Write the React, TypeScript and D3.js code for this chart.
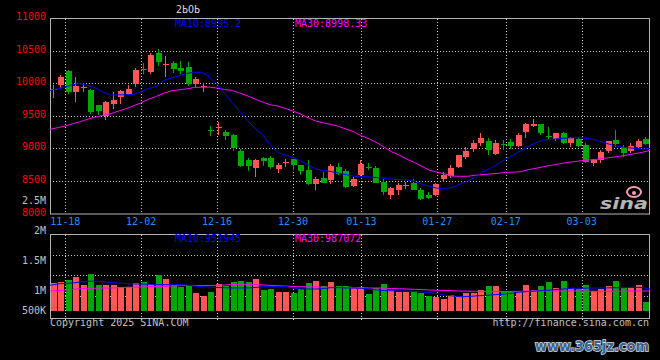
import { useMemo } from "react";
import * as d3 from "d3";

// trading days shown (MM-DD)
const dates = [
  "11-14", "11-15", "11-18", "11-19", "11-20", "11-21", "11-22", "11-25", "11-26", "11-27",
  "11-28", "11-29", "12-02", "12-03", "12-04", "12-05", "12-06", "12-09", "12-10", "12-11",
  "12-12", "12-13", "12-16", "12-17", "12-18", "12-19", "12-20", "12-23", "12-24", "12-25",
  "12-26", "12-27", "12-30", "12-31", "01-02", "01-03", "01-06", "01-07", "01-08", "01-09",
  "01-10", "01-13", "01-14", "01-15", "01-16", "01-17", "01-20", "01-21", "01-22", "01-23",
  "01-24", "01-27", "02-05", "02-06", "02-07", "02-10", "02-11", "02-12", "02-13", "02-14",
  "02-17", "02-18", "02-19", "02-20", "02-21", "02-24", "02-25", "02-26", "02-27", "02-28",
  "03-03", "03-04", "03-05", "03-06", "03-07", "03-10", "03-11", "03-12", "03-13", "03-14",
];

const opens = [
  9900, 9975, 10189, 9857, 9925, 9888, 9658, 9500, 9684, 9781,
  9837, 9980, 10225, 10179, 10464, 10290, 10316, 10240, 10250, 9980,
  9945, 9285, 9318, 9256, 9210, 8965, 8827, 8705, 8849, 8854,
  8685, 8783, 8833, 8741, 8669, 8454, 8546, 8515, 8710, 8654,
  8423, 8587, 8720, 8700, 8490, 8285, 8362, 8418, 8464, 8362,
  8285, 8285, 8526, 8577, 8719, 8872, 8990, 9077, 9112, 8913,
  9070, 9102, 9041, 9255, 9350, 9372, 9195, 9143, 9240, 9077,
  9138, 9051, 8770, 8821, 8964, 9128, 9026, 8964, 9026, 9138,
];
const highs = [
  9975, 10128, 10195, 10102, 10000, 9908, 9668, 9725, 9857, 9890,
  9975, 10235, 10306, 10459, 10526, 10423, 10337, 10337, 10327, 10092,
  10010, 9347, 9409, 9286, 9215, 8990, 8848, 8833, 8874, 8890,
  8772, 8833, 8840, 8746, 8823, 8556, 8644, 8762, 8772, 8680,
  8556, 8823, 8772, 8731, 8526, 8413, 8464, 8490, 8526, 8387,
  8331, 8464, 8638, 8745, 8900, 9026, 9128, 9230, 9163, 9128,
  9128, 9138, 9230, 9383, 9444, 9372, 9332, 9240, 9255, 9179,
  9179, 9087, 8842, 8974, 9112, 9281, 9051, 9087, 9138, 9168,
];
const lows = [
  9780, 9924, 9840, 9704, 9857, 9531, 9516, 9439, 9607, 9679,
  9822, 9934, 10138, 10148, 10270, 10102, 10153, 10133, 9949, 9924,
  9857, 9194, 9209, 9133, 8965, 8720, 8659, 8567, 8731, 8690,
  8628, 8720, 8669, 8592, 8438, 8362, 8464, 8454, 8592, 8387,
  8403, 8556, 8669, 8464, 8285, 8223, 8285, 8372, 8356, 8208,
  8223, 8269, 8490, 8541, 8694, 8832, 8949, 9036, 8898, 8898,
  8974, 8985, 9026, 9163, 9332, 9204, 9138, 9117, 9066, 9026,
  9026, 8781, 8735, 8770, 8923, 9026, 8872, 8923, 9000, 9051,
];
const closes = [
  9915, 10097, 9862, 9959, 9945, 9551, 9567, 9715, 9745, 9883,
  9913, 10204, 10220, 10434, 10332, 10295, 10220, 10189, 9990, 10066,
  9950, 9280, 9325, 9194, 9001, 8735, 8735, 8823, 8813, 8710,
  8746, 8790, 8746, 8654, 8454, 8531, 8469, 8731, 8608, 8413,
  8531, 8762, 8710, 8469, 8336, 8397, 8438, 8438, 8362, 8223,
  8244, 8454, 8597, 8704, 8898, 8964, 9087, 9163, 8974, 9087,
  9060, 9041, 9204, 9372, 9372, 9240, 9185, 9240, 9077, 9153,
  9036, 8796, 8821, 8949, 9112, 9066, 8923, 9036, 9112, 9066,
];
const ma10 = [
  9888, 9914, 9944, 9980, 9995, 9964, 9924, 9862, 9817, 9822,
  9822, 9827, 9868, 9919, 9949, 10041, 10082, 10112, 10148, 10168,
  10168, 10092, 9985, 9837, 9704, 9567, 9428, 9310, 9208, 9054,
  8936, 8895, 8859, 8808, 8746, 8685, 8659, 8644, 8618, 8597,
  8572, 8567, 8562, 8551, 8541, 8526, 8521, 8515, 8490, 8449,
  8418, 8387, 8387, 8400, 8454, 8500, 8556, 8643, 8694, 8760,
  8837, 8893, 8964, 9026, 9087, 9128, 9138, 9148, 9158, 9163,
  9163, 9148, 9122, 9087, 9051, 9026, 9010, 9000, 8990, 8995,
];
const ma30 = [
  9291, 9317, 9342, 9378, 9409, 9449, 9480, 9505, 9531, 9572,
  9607, 9653, 9699, 9755, 9796, 9847, 9883, 9898, 9913, 9934,
  9939, 9939, 9924, 9903, 9888, 9847, 9806, 9756, 9710, 9669,
  9649, 9613, 9572, 9526, 9469, 9418, 9392, 9367, 9336, 9295,
  9254, 9192, 9146, 9090, 9018, 8946, 8895, 8833, 8782, 8721,
  8664, 8633, 8608, 8574, 8571, 8571, 8587, 8597, 8607, 8617,
  8633, 8633, 8643, 8673, 8694, 8719, 8740, 8760, 8781, 8796,
  8811, 8821, 8832, 8847, 8862, 8878, 8898, 8918, 8939, 8969,
];

// volume in thousands
const volumes = [
  1138, 1155, 1183, 1233, 1100, 1283, 1100, 1100, 1100, 1072,
  1072, 1138, 1155, 1117, 1267, 1200, 1100, 1072, 1100, 972,
  922, 988, 1117, 1083, 1155, 1167, 1150, 1200, 1022, 1033,
  988, 988, 972, 1038, 1133, 1167, 1083, 1155, 1083, 1083,
  1045, 1062, 950, 1055, 1117, 1017, 988, 988, 1005, 972,
  917, 905, 867, 933, 922, 972, 972, 1017, 1083, 1083,
  1000, 988, 988, 1100, 1017, 1083, 1150, 1045, 1167, 1055,
  1028, 1100, 1000, 1033, 1083, 1167, 1055, 1045, 1100, 817,
];
const volMa10 = [
  1095, 1117, 1128, 1133, 1150, 1162, 1162, 1158, 1138, 1133,
  1125, 1117, 1117, 1112, 1108, 1105, 1105, 1105, 1100, 1083,
  1072, 1067, 1058, 1055, 1050, 1050, 1050, 1058, 1072, 1075,
  1075, 1078, 1050, 1033, 1033, 1033, 1042, 1055, 1055, 1050,
  1050, 1045, 1033, 1017, 1008, 1005, 1000, 1000, 992, 983,
  972, 958, 933, 917, 905, 908, 917, 925, 933, 942,
  950, 967, 983, 992, 1000, 1005, 1017, 1028, 1038, 1045,
  1045, 1050, 1050, 1050, 1055, 1055, 1058, 1062, 1058, 1033,
];
const volMa30 = [
  1005, 1005, 1017, 1028, 1038, 1045, 1047, 1050, 1050, 1055,
  1062, 1063, 1067, 1072, 1075, 1078, 1083, 1088, 1092, 1092,
  1090, 1092, 1095, 1100, 1108, 1112, 1112, 1108, 1100, 1095,
  1088, 1083, 1075, 1072, 1070, 1067, 1063, 1062, 1058, 1057,
  1055, 1053, 1050, 1050, 1047, 1042, 1038, 1033, 1028, 1023,
  1017, 1012, 1008, 1005, 1000, 997, 995, 992, 990, 990,
  992, 993, 995, 997, 1000, 1000, 1000, 1000, 1000, 1000,
  998, 997, 995, 995, 995, 997, 998, 1000, 1000, 1000,
];

const priceTicks = [11000, 10500, 10000, 9500, 9000, 8500, 8000];
const volTicks = [2500, 2000, 1500, 1000, 500];
const volTickLabels = ["2.5M", "2M", "1.5M", "1M", "500K"];
const dateTicks = ["11-18", "12-02", "12-16", "12-30", "01-13", "01-27", "02-17", "03-03"];

const TITLE = "2ЬОЬ";
const LEGEND_PRICE = ["MA10:8995.2", "MA30:8998.33"];
const LEGEND_VOL = ["MA10:951945", "MA30:987072"];

const W = 660;
const H = 360;
const LEFT = 50;
const RIGHT = 650;
const TOP = 18;
const BOTTOM = 213.5;
const VTOP = 234;
const VBOTTOM = 318;
const VBASE = 311;

const RED = "#FF5555";
const GREEN = "#00A800";
const BLUE = "#0000FF";
const MAGENTA = "#FF00FF";
const GRID = "#C8C8C8";
const BORDER = "#B4B4B4";
const LABEL = "#C0C0C0";
const FONT = "'DejaVu Sans Mono', monospace";

export default function App() {
  const idx = d3.range(dates.length);

  // candles sit on 80 equal slots; the grid / MA lines use 79 steps edge to edge
  const x = useMemo(
    () => d3.scaleBand<number>().domain(idx).range([LEFT, RIGHT]).paddingInner(0.2).paddingOuter(0.1),
    []
  );
  const gx = useMemo(() => d3.scalePoint<string>().domain(dates).range([LEFT, RIGHT]), []);
  const y = d3.scaleLinear().domain([8000, 11000]).range([BOTTOM, TOP]);
  const yVol = d3.scaleLinear().domain([1000, 2000]).range([291, 231]);

  const maLine = d3
    .line<number>()
    .x((_, i) => gx(dates[i]) as number)
    .y((d) => y(d));
  const volLine = d3
    .line<number>()
    .x((_, i) => gx(dates[i]) as number)
    .y((d) => yVol(d));

  const volGrid = d3.range(1, 4).map((k) => Math.round(VTOP + ((VBOTTOM - 2 - VTOP) * k) / 4) + 0.5);

  return (
    <svg
      width={W}
      height={H}
      style={{ position: "absolute", left: 0, top: 0, display: "block", background: "#000" }}
      fontFamily={FONT}
      fontSize={10}
    >
      <rect width={W} height={H} fill="#000" />

      <text x={176} y={13} fill="#D8D8D8">{TITLE}</text>

      {/* price grid */}
      {priceTicks.slice(1, -1).map((p) => (
        <line key={p} x1={LEFT} x2={RIGHT} y1={Math.round(y(p)) + 0.5} y2={Math.round(y(p)) + 0.5}
          stroke={GRID} strokeDasharray="1,2" />
      ))}
      {dateTicks.map((d) => {
        const gxv = Math.round(gx(d) as number) + 0.5;
        return (
          <g key={d}>
            <line x1={gxv} x2={gxv} y1={TOP + 1} y2={BOTTOM} stroke={GRID} strokeDasharray="1,2" />
            <line x1={gxv} x2={gxv} y1={VTOP + 1} y2={VBOTTOM + 2} stroke={GRID} strokeDasharray="1,2" />
            <text x={gx(d)} y={225} textAnchor="middle" fill="#1E90FF">{d}</text>
          </g>
        );
      })}
      {volGrid.map((gy) => (
        <line key={gy} x1={LEFT} x2={RIGHT} y1={gy} y2={gy} stroke={GRID} strokeDasharray="1,2" />
      ))}

      {/* borders */}
      <rect x={LEFT + 0.5} y={TOP + 0.5} width={RIGHT - LEFT - 1} height={Math.round(BOTTOM) - TOP - 0.5}
        fill="none" stroke={BORDER} />
      <rect x={LEFT + 0.5} y={VTOP + 0.5} width={RIGHT - LEFT - 1} height={VBOTTOM - VTOP}
        fill="none" stroke={BORDER} />

      {/* price axis */}
      {priceTicks.map((p) => (
        <text key={p} x={46} y={y(p) + 2} textAnchor="end" fill="#FF0000">{p}</text>
      ))}
      {/* volume axis */}
      {volTicks.map((v, i) => (
        <text key={v} x={46} y={Math.min(yVol(v), VBASE) + 3} textAnchor="end" fill={LABEL}>
          {volTickLabels[i]}
        </text>
      ))}

      {/* candles */}
      {idx.map((i) => {
        const up = closes[i] >= opens[i];
        const c = up ? RED : GREEN;
        const x0 = Math.round(x(i) as number);
        const top = Math.round(y(Math.max(opens[i], closes[i])));
        const bot = Math.round(y(Math.min(opens[i], closes[i])));
        return (
          <g key={i}>
            <line x1={x0 + 2.5} x2={x0 + 2.5} y1={Math.round(y(highs[i]))} y2={Math.round(y(lows[i]))} stroke={c} />
            <rect x={x0} y={top} width={x.bandwidth()} height={Math.max(1, bot - top)} fill={c} />
          </g>
        );
      })}
      <path d={maLine(ma30) ?? ""} fill="none" stroke={MAGENTA} />
      <path d={maLine(ma10) ?? ""} fill="none" stroke={BLUE} />

      {/* volume bars */}
      {idx.map((i) => {
        const c = closes[i] >= opens[i] ? RED : GREEN;
        const x0 = Math.round(x(i) as number);
        const top = Math.round(yVol(volumes[i]));
        return <rect key={i} x={x0} y={top} width={x.bandwidth()} height={VBASE - top} fill={c} />;
      })}
      <path d={volLine(volMa30) ?? ""} fill="none" stroke={MAGENTA} />
      <path d={volLine(volMa10) ?? ""} fill="none" stroke={BLUE} />

      {/* legends */}
      <text x={175} y={27} fill={BLUE}>{LEGEND_PRICE[0]}</text>
      <text x={295} y={27} fill={MAGENTA}>{LEGEND_PRICE[1]}</text>
      <text x={175} y={242} fill={BLUE}>{LEGEND_VOL[0]}</text>
      <text x={295} y={242} fill={MAGENTA}>{LEGEND_VOL[1]}</text>

      {/* sina logo */}
      <g>
        <ellipse cx={634} cy={192} rx={7} ry={5} fill="none" stroke="#F0A0B4" strokeWidth={2} />
        <circle cx={634} cy={193} r={2} fill="#F0A0B4" />
        <text x={600} y={209} fontFamily="'DejaVu Sans', sans-serif" fontSize={15} fontWeight="bold"
          fontStyle="italic" fill="#B4B4B4" textLength={48} lengthAdjust="spacingAndGlyphs">sina</text>
      </g>

      <text x={LEFT} y={326} fill={LABEL}>Copyright 2025 SINA.COM</text>
      <text x={649} y={326} textAnchor="end" fill={LABEL}>http://finance.sina.com.cn</text>

      <text x={535} y={351} fontFamily="'DejaVu Sans', sans-serif" fontSize={14} fontWeight="bold"
        fill="#3D5F8C" stroke="#D8E0EC" strokeWidth={1.5} paintOrder="stroke" textLength={114}
        lengthAdjust="spacingAndGlyphs">www.365jz.com</text>
    </svg>
  );
}
